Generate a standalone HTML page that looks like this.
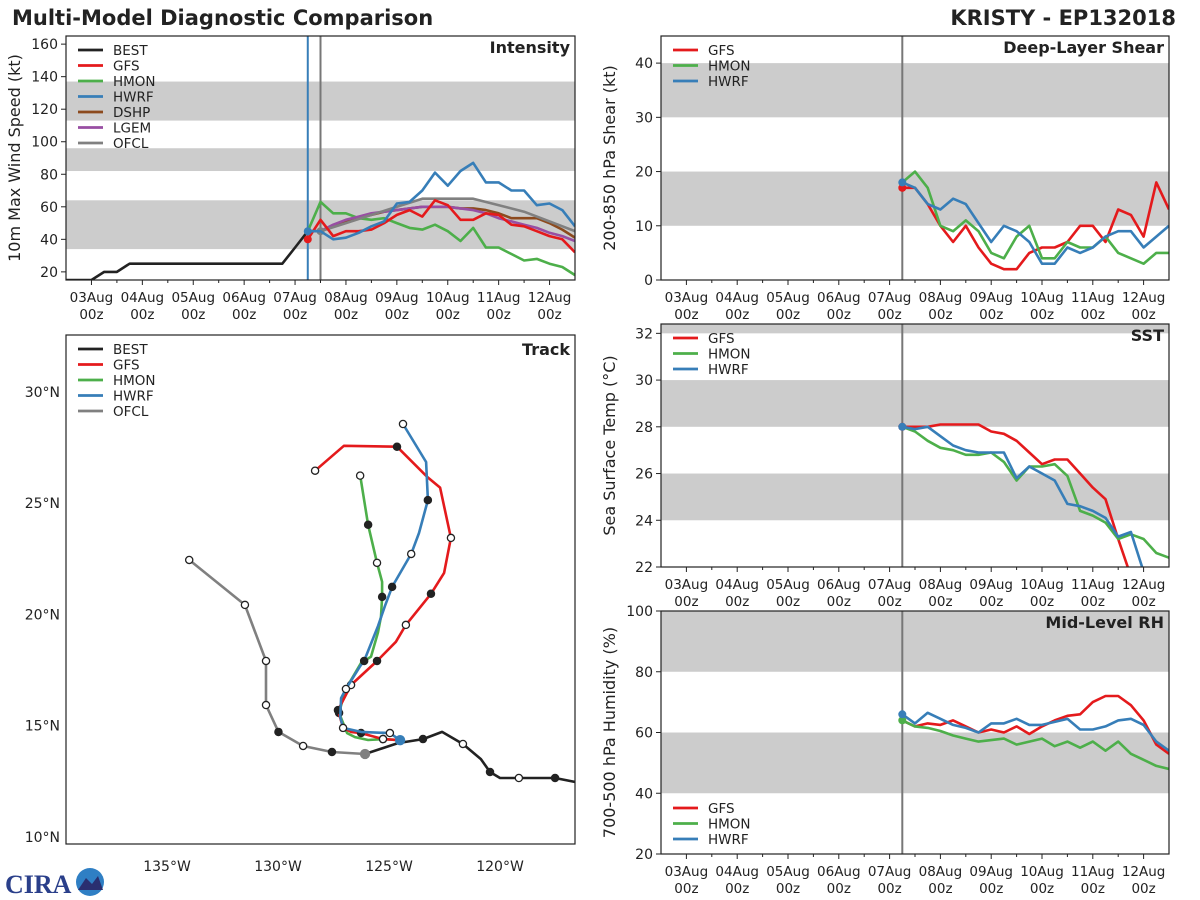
<!DOCTYPE html>
<html><head><meta charset="utf-8">
<style>
html,body{margin:0;padding:0;background:#fff;}
svg{display:block;font-family:"DejaVu Sans","Liberation Sans",sans-serif;}
</style></head>
<body>
<svg id="chart" width="1200" height="900" viewBox="0 0 1200 900" xmlns="http://www.w3.org/2000/svg">
<text x="12" y="25" font-size="21" font-weight="bold" fill="#222">Multi-Model Diagnostic Comparison</text>
<text x="1176" y="25" font-size="21" font-weight="bold" fill="#222" text-anchor="end">KRISTY - EP132018</text>
<g>
<text x="5" y="893" font-size="26" font-weight="bold" fill="#2a3f8a" font-family="Liberation Serif, serif">CIRA</text>
<circle cx="90" cy="882" r="14" fill="#2f7fc4"/>
<path d="M78 890 L86 878 L92 884 L98 876 L103 890 Z" fill="#2a2f70"/>
</g>
</svg>
<script>
// ---- data (days relative to 03Aug 00z; models every 6h from 07Aug 06z) ----
const dateLabels = ["03Aug","04Aug","05Aug","06Aug","07Aug","08Aug","09Aug","10Aug","11Aug","12Aug"];
const modelStart = 4.25;
const bestIntTimes = [-0.5,0,0.25,0.5,0.75,1,1.5,2,2.5,3,3.5,3.75,4.0,4.25];
const bestIntVals  = [15,15,20,20,25,25,25,25,25,25,25,25,35,45];
const gfsInt  = [40,52,42,45,45,46,50,55,58,54,64,61,52,52,56,55,49,48,45,42,40,32];
const hmonInt = [45,63,56,56,53,52,53,50,47,46,49,45,39,47,35,35,31,27,28,25,23,18];
const hwrfInt = [45,45,40,41,44,48,51,62,63,70,81,73,82,87,75,75,70,70,61,62,58,48];
const dshpInt = [45,45,48,51,53,55,57,58,59,60,60,60,59,59,58,56,53,53,53,50,46,41];
const lgemInt = [45,45,49,52,54,56,57,58,59,60,60,60,59,58,56,53,51,49,47,44,42,39];
const ofclTimes = [4.5,5,5.5,6,6.5,7,7.5,8.5,9.5];
const ofclInt   = [45,50,55,60,65,65,65,57,45];
const gfsShear  = [17,17,14,10,7,10,6,3,2,2,5,6,6,7,10,10,7,13,12,8,18,13];
const hmonShear = [18,20,17,10,9,11,9,5,4,8,10,4,4,7,6,6,8,5,4,3,5,5];
const hwrfShear = [18,17,14,13,15,14,10.5,7,10,9,7,3,3,6,5,6,8,9,9,6,8,10];
const gfsSst  = [28,28,28,28.1,28.1,28.1,28.1,27.8,27.7,27.4,26.9,26.4,26.6,26.6,26.0,25.4,24.9,23.2,21.6,20.5,20,20];
const hmonSst = [28,27.8,27.4,27.1,27.0,26.8,26.8,26.9,26.5,25.7,26.3,26.3,26.4,25.9,24.4,24.2,23.9,23.2,23.4,23.2,22.6,22.4];
const hwrfSst = [28,27.9,28.0,27.6,27.2,27.0,26.9,26.9,26.9,25.8,26.3,26.0,25.7,24.7,24.6,24.4,24.1,23.3,23.5,21.8,20.5,20];
const gfsRh  = [64,62,63,62.5,64,62,60,61,60,62,59.5,62,64,65.5,66,70,72,72,69,64,56,53];
const hmonRh = [64,62,61.5,60.5,59,58,57,57.5,58,56,57,58,55.5,57,55,57,54,57,53,51,49,48];
const hwrfRh = [66,63,66.5,64.5,62.5,61.5,60,63,63,64.5,62.5,62.5,63.5,64.5,61,61,62,64,64.5,62.5,57,54];
// tracks: [lonW, lat, marker] marker: 0 none, 1 black, 2 white
const bestTrack = [[116.6,12.47,0],[117.52,12.65,1],[119.15,12.65,2],[120.0,12.65,0],[120.45,12.92,1],[120.86,13.5,0],[121.67,14.18,2],[122.61,14.72,0],[123.47,14.4,1],[124.6,14.22,0],[126.08,13.73,0]];
const ofclTrack = [[126.08,13.73,3],[127.57,13.82,1],[128.87,14.09,2],[129.98,14.72,1],[130.54,15.93,2],[130.54,17.91,2],[131.49,20.43,2],[134.0,22.45,2]];
const gfsTrack  = [[124.5,14.35,0],[125.27,14.4,2],[126.26,14.67,1],[126.71,14.72,0],[127.07,14.9,0],[127.3,15.7,1],[126.71,16.83,2],[125.54,17.91,1],[124.69,18.77,0],[124.24,19.53,2],[123.11,20.93,1],[122.52,21.87,0],[122.21,23.44,2],[122.7,25.7,0],[123.29,26.19,0],[124.64,27.54,1],[127.03,27.58,0],[128.33,26.46,2]];
const hwrfTrack = [[124.5,14.35,3],[124.96,14.67,2],[126.26,14.72,0],[127.07,14.9,2],[127.2,15.4,0],[127.16,16.24,0],[126.94,16.65,2],[126.3,17.68,0],[126.12,17.91,1],[125.49,19.49,0],[125.18,20.39,0],[124.86,21.24,1],[124.0,22.72,2],[123.65,23.66,0],[123.25,25.14,1],[123.33,26.85,0],[124.37,28.56,2]];
const hmonTrack = [[124.5,14.35,0],[125.27,14.4,2],[125.94,14.36,0],[126.53,14.49,0],[126.89,14.67,0],[127.25,15.57,1],[126.98,16.6,0],[126.26,17.82,0],[125.81,18.1,0],[125.5,19.18,0],[125.36,19.9,0],[125.31,20.79,1],[125.31,21.47,0],[125.54,22.32,2],[125.94,24.03,1],[126.3,26.24,2]];

const NS="http://www.w3.org/2000/svg";
const svg=document.getElementById('chart');
function el(tag,attrs,parent){const e=document.createElementNS(NS,tag);for(const k in attrs)e.setAttribute(k,attrs[k]);(parent||svg).appendChild(e);return e;}
const C={best:"#222",gfs:"#e41a1c",hmon:"#4daf4a",hwrf:"#377eb8",dshp:"#8c4a1e",lgem:"#984ea3",ofcl:"#808080"};

function makePanel(name,x0,x1,y0,y1,ymin,ymax,bands,yticks,ylabel,title,clipId){
  const g=el('g',{});
  
  
  const xs=d=>x0+(d+0.5)*(x1-x0)/10;
  const ys=v=>y1-(v-ymin)*(y1-y0)/(ymax-ymin);
  const cp=el('clipPath',{id:clipId},g);el('rect',{x:x0,y:y0,width:x1-x0,height:y1-y0},cp);
  bands.forEach(b=>{const r=el('rect',{x:x0,y:ys(Math.min(b[1],ymax)),width:x1-x0,height:ys(b[0])-ys(Math.min(b[1],ymax)),fill:"#cccccc"},g);
    
    });
  yticks.forEach(v=>{el('line',{x1:x0-5,x2:x0,y1:ys(v),y2:ys(v),stroke:"#222"},g);
    const t=el('text',{x:x0-8,y:ys(v)+5,"font-size":14,"text-anchor":"end",fill:"#222"},g);t.textContent=v;
    
    });
  dateLabels.forEach((lab,i)=>{const x=xs(i);el('line',{x1:x,x2:x,y1:y1,y2:y1+5,stroke:"#222"},g);
    if(i<9)el('line',{x1:xs(i+0.5),x2:xs(i+0.5),y1:y1,y2:y1+3,stroke:"#222"},g);
    const t=el('text',{x:x,y:y1+22,"font-size":13.5,"text-anchor":"middle",fill:"#222"},g);t.textContent=lab;
    
    
    const t2=el('text',{x:x,y:y1+39,"font-size":13.5,"text-anchor":"middle",fill:"#222"},g);t2.textContent="00z";
    
    });
  const yl=el('text',{transform:`translate(${x0-46},${(y0+y1)/2}) rotate(-90)`,"font-size":16,"text-anchor":"middle",fill:"#222"},g);yl.textContent=ylabel;
  
  
  const tt=el('text',{x:x1-5,y:y0+17,"font-size":16,"font-weight":"bold","text-anchor":"end",fill:"#222"},g);tt.textContent=title;
  
  
  return {g,xs,ys,frame:()=>el('rect',{x:x0,y:y0,width:x1-x0,height:y1-y0,fill:"none",stroke:"#222","stroke-width":1.2},g)};
}
function series(p,times,vals,color,name,clipId,dot){
  const d=vals.map((v,i)=>(i?'L':'M')+p.xs(times[i]).toFixed(1)+','+p.ys(v).toFixed(1)).join('');
  const path=el('path',{d:d,fill:"none",stroke:color,"stroke-width":2.6,"clip-path":`url(#${clipId})`,"stroke-linejoin":"round"},p.g);
  
  
  if(dot){const c=el('circle',{cx:p.xs(times[0]),cy:p.ys(vals[0]),r:4,fill:color},p.g);
    
    }
}
function legend(p,x,y,entries,step){
  entries.forEach((e,i)=>{el('line',{x1:x,x2:x+25,y1:y+i*step,y2:y+i*step,stroke:e[1],"stroke-width":2.8},p.g);
    const t=el('text',{x:x+35,y:y+i*step+5,"font-size":13.5,fill:"#222"},p.g);t.textContent=e[0];
    
    });
}
const mt=modelStart, mTimes=gfsInt.map((_,i)=>mt+0.25*i);

// Intensity
const pI=makePanel('intensity-panel',66,575,36,280,15,165,[[34,64],[82,96],[113,137]],[20,40,60,80,100,120,140,160],'10m Max Wind Speed (kt)','Intensity','clipI');
el('line',{x1:pI.xs(4.25),x2:pI.xs(4.25),y1:36,y2:280,stroke:C.hwrf,"stroke-width":2},pI.g);
el('line',{x1:pI.xs(4.5),x2:pI.xs(4.5),y1:36,y2:280,stroke:"#777","stroke-width":2},pI.g);
series(pI,bestIntTimes,bestIntVals,C.best,'best-intensity','clipI');
series(pI,mTimes,hmonInt,C.hmon,'hmon-intensity','clipI');
series(pI,mTimes,dshpInt,C.dshp,'dshp-intensity','clipI');
series(pI,mTimes,lgemInt,C.lgem,'lgem-intensity','clipI');
series(pI,ofclTimes,ofclInt,C.ofcl,'ofcl-intensity','clipI',true);
series(pI,mTimes,gfsInt,C.gfs,'gfs-intensity','clipI',true);
series(pI,mTimes,hwrfInt,C.hwrf,'hwrf-intensity','clipI',true);
legend(pI,78,50,[["BEST",C.best],["GFS",C.gfs],["HMON",C.hmon],["HWRF",C.hwrf],["DSHP",C.dshp],["LGEM",C.lgem],["OFCL",C.ofcl]],15.5);
pI.frame();

// Shear
const pS=makePanel('shear-panel',661,1169,36,280,0,45,[[10,20],[30,40]],[0,10,20,30,40],'200-850 hPa Shear (kt)','Deep-Layer Shear','clipS');
el('line',{x1:pS.xs(4.25),x2:pS.xs(4.25),y1:36,y2:280,stroke:"#777","stroke-width":2},pS.g);
series(pS,mTimes,gfsShear,C.gfs,'gfs-shear','clipS',true);
series(pS,mTimes,hmonShear,C.hmon,'hmon-shear','clipS');
series(pS,mTimes,hwrfShear,C.hwrf,'hwrf-shear','clipS',true);
legend(pS,673,50,[["GFS",C.gfs],["HMON",C.hmon],["HWRF",C.hwrf]],15.5);
pS.frame();

// SST
const pT=makePanel('sst-panel',661,1169,324,567,22,32.4,[[24,26],[28,30],[32,33]],[22,24,26,28,30,32],'Sea Surface Temp (°C)','SST','clipT');
el('line',{x1:pT.xs(4.25),x2:pT.xs(4.25),y1:324,y2:567,stroke:"#777","stroke-width":2},pT.g);
series(pT,mTimes,gfsSst,C.gfs,'gfs-sst','clipT',true);
series(pT,mTimes,hmonSst,C.hmon,'hmon-sst','clipT');
series(pT,mTimes,hwrfSst,C.hwrf,'hwrf-sst','clipT',true);
legend(pT,673,338,[["GFS",C.gfs],["HMON",C.hmon],["HWRF",C.hwrf]],15.5);
pT.frame();

// RH
const pR=makePanel('rh-panel',661,1169,611,854,20,100,[[40,60],[80,100]],[20,40,60,80,100],'700-500 hPa Humidity (%)','Mid-Level RH','clipR');
el('line',{x1:pR.xs(4.25),x2:pR.xs(4.25),y1:611,y2:854,stroke:"#777","stroke-width":2},pR.g);
series(pR,mTimes,gfsRh,C.gfs,'gfs-rh','clipR');
series(pR,mTimes,hmonRh,C.hmon,'hmon-rh','clipR',true);
series(pR,mTimes,hwrfRh,C.hwrf,'hwrf-rh','clipR',true);
legend(pR,673,808,[["GFS",C.gfs],["HMON",C.hmon],["HWRF",C.hwrf]],15.5);
pR.frame();

// Track
const tg=el('g',{});


const lx=lon=>66+(139.55-lon)*22.2, ly=lat=>335+(32.56-lat)*22.25;
const tcp=el('clipPath',{id:'clipTr'},tg);el('rect',{x:66,y:335,width:509,height:509},tcp);
[135,130,125,120].forEach(l=>{const t=el('text',{x:lx(l),y:871,"font-size":14,"text-anchor":"middle",fill:"#222"},tg);t.textContent=l+"°W";
  
  });
[10,15,20,25,30].forEach(l=>{const t=el('text',{x:60,y:ly(l)+5,"font-size":14,"text-anchor":"end",fill:"#222"},tg);t.textContent=l+"°N";
  
  });
function track(pts,color,name){
  const d=pts.map((p,i)=>(i?'L':'M')+lx(p[0]).toFixed(1)+','+ly(p[1]).toFixed(1)).join('');
  const path=el('path',{d:d,fill:"none",stroke:color,"stroke-width":2.6,"clip-path":"url(#clipTr)","stroke-linejoin":"round"},tg);
  
  
  pts.forEach(p=>{if(!p[2])return;
    const c=el('circle',{cx:lx(p[0]),cy:ly(p[1]),r:p[2]==3?4.5:3.6,fill:p[2]==1?"#222":p[2]==3?color:"#fff",stroke:p[2]==3?color:"#222","stroke-width":1.3},tg);
    
    });
}
track(bestTrack,C.best,'best-track');
track(ofclTrack,C.ofcl,'ofcl-track');
track(hmonTrack,C.hmon,'hmon-track');
track(gfsTrack,C.gfs,'gfs-track');
track(hwrfTrack,C.hwrf,'hwrf-track');
const tleg=[["BEST",C.best],["GFS",C.gfs],["HMON",C.hmon],["HWRF",C.hwrf],["OFCL",C.ofcl]];
tleg.forEach((e,i)=>{el('line',{x1:78,x2:103,y1:349+i*15.5,y2:349+i*15.5,stroke:e[1],"stroke-width":2.8},tg);
  const t=el('text',{x:113,y:354+i*15.5,"font-size":13.5,fill:"#222"},tg);t.textContent=e[0];
  
  });
const tt=el('text',{x:570,y:355,"font-size":16,"font-weight":"bold","text-anchor":"end",fill:"#222"},tg);tt.textContent="Track";


el('rect',{x:66,y:335,width:509,height:509,fill:"none",stroke:"#222","stroke-width":1.2},tg);
</script>
</body></html>
